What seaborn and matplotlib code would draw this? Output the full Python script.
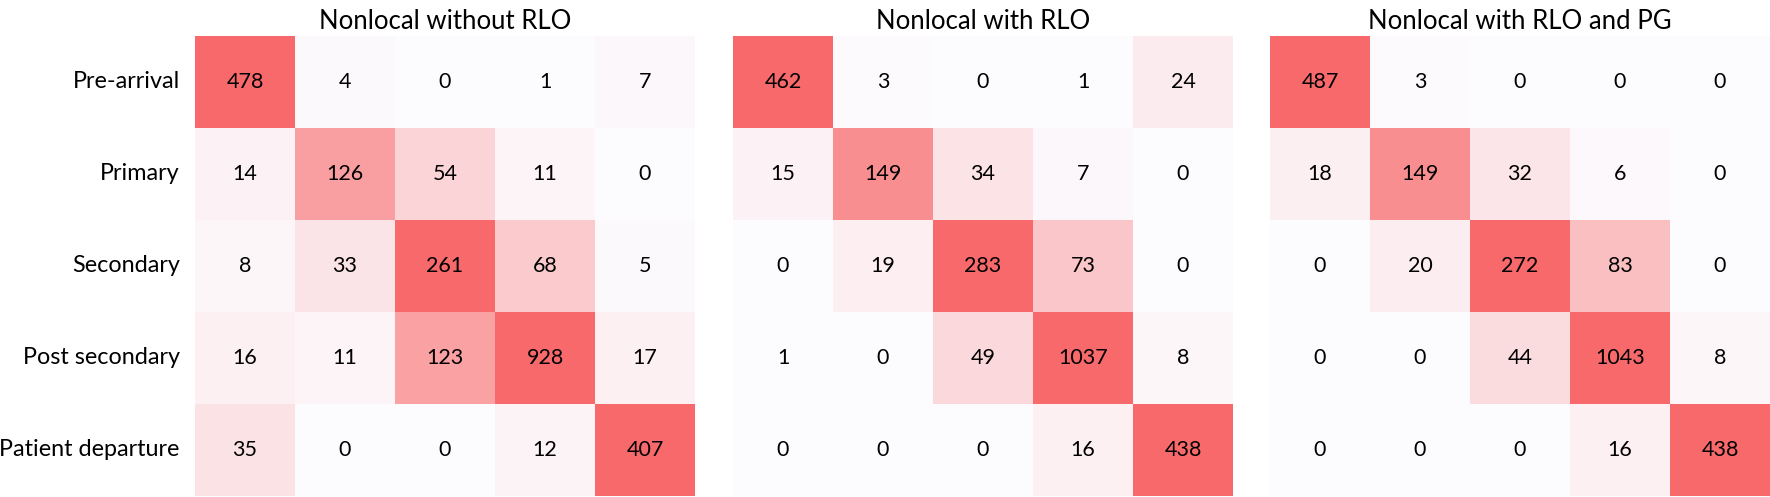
import numpy as np
import pandas as pd
import matplotlib
matplotlib.use("Agg")
import matplotlib.pyplot as plt
import seaborn as sns
from matplotlib.colors import LinearSegmentedColormap

categories = ["Pre-arrival", "Primary", "Secondary", "Post secondary", "Patient departure"]
titles = ["Nonlocal without RLO", "Nonlocal with RLO", "Nonlocal with RLO and PG"]

without_rlo = [
    [478, 4, 0, 1, 7],
    [14, 126, 54, 11, 0],
    [8, 33, 261, 68, 5],
    [16, 11, 123, 928, 17],
    [35, 0, 0, 12, 407],
]
with_rlo = [
    [462, 3, 0, 1, 24],
    [15, 149, 34, 7, 0],
    [0, 19, 283, 73, 0],
    [1, 0, 49, 1037, 8],
    [0, 0, 0, 16, 438],
]
with_rlo_pg = [
    [487, 3, 0, 0, 0],
    [18, 149, 32, 6, 0],
    [0, 20, 272, 83, 0],
    [0, 0, 44, 1043, 8],
    [0, 0, 0, 16, 438],
]
matrices = [without_rlo, with_rlo, with_rlo_pg]

sns.set_theme(style="white")
plt.rcParams["font.family"] = ["Lato", "DejaVu Sans"]

cmap = LinearSegmentedColormap.from_list("wr", ["#FCFCFF", "#F8696B"])

W, H = 1770, 497
fig = plt.figure(figsize=(W / 100, H / 100), dpi=100)
lefts = [195, 733, 1270]
pw, top, bot = 500, 36, 496

for i, (m, t, l) in enumerate(zip(matrices, titles, lefts)):
    ax = fig.add_axes([l / W, (H - bot) / H, pw / W, (bot - top) / H])
    df = pd.DataFrame(m, index=categories, columns=categories)
    sns.heatmap(df, ax=ax, cmap=cmap, vmin=0, vmax=200, cbar=False,
                annot=True, fmt="d",
                annot_kws={"size": 15.5, "color": "black"},
                xticklabels=False, yticklabels=(i == 0))
    ax.set_title(t, fontsize=18.5, pad=5, color="black")
    ax.tick_params(axis="y", length=0, pad=11, labelsize=16.8, labelcolor="black")
    ax.tick_params(axis="x", length=0)
    ax.set_ylabel("")
    ax.set_xlabel("")
    if i == 0:
        plt.setp(ax.get_yticklabels(), rotation=0)

fig.savefig("out.png", dpi=100)
